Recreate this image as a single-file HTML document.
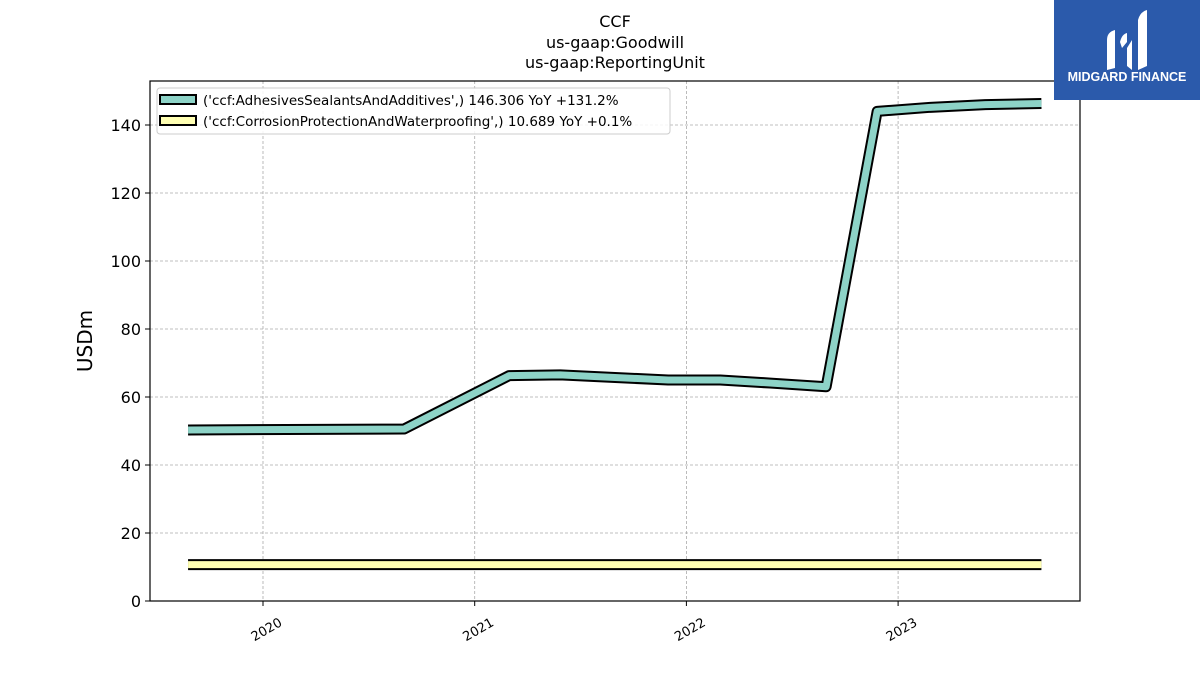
<!DOCTYPE html>
<html><head><meta charset="utf-8"><style>
body{margin:0;background:#fff;width:1200px;height:675px;overflow:hidden;font-family:"Liberation Sans","DejaVu Sans",sans-serif}
</style></head><body>
<svg id="chart" width="1200" height="675" xmlns="http://www.w3.org/2000/svg" font-family="DejaVu Sans, Liberation Sans, sans-serif">
<g font-size="16" text-anchor="middle" fill="#000">
<text x="615" y="27">CCF</text><text x="615" y="48">us-gaap:Goodwill</text><text x="615" y="68">us-gaap:ReportingUnit</text></g>
<g id="grid"></g>
<g id="series"></g>
<rect x="150" y="81" width="930" height="520" fill="none" stroke="#000" stroke-width="1.2"/>
<g id="axes"></g>
<text transform="translate(92,341) rotate(-90)" text-anchor="middle" font-size="20">USDm</text>
<g>
<rect x="157" y="88" width="513" height="46" rx="3" fill="#fff" fill-opacity="0.85" stroke="#ccc"/>
<g><rect x="160" y="95" width="36" height="9" fill="#8dd3c7" stroke="#000" stroke-width="2"/><text x="203" y="105" font-size="13.5">('ccf:AdhesivesSealantsAndAdditives',) 146.306 YoY +131.2%</text></g>
<g><rect x="160" y="116" width="36" height="9" fill="#ffffb3" stroke="#000" stroke-width="2"/><text x="203" y="126" font-size="13.5">('ccf:CorrosionProtectionAndWaterproofing',) 10.689 YoY +0.1%</text></g>
</g>
<g>
<rect x="1054" y="0" width="146" height="100" fill="#2b5aab"/>
<path d="M1107 40 Q1107 32 1115 30 L1115 68 L1107 70 Z M1120 42 Q1122 34 1127 33 L1127 42 L1122 48 Z M1127 48 L1132 40 L1132 70 L1127 66 Z M1138 20 Q1140 12 1147 10 L1147 66 L1138 70 Z" fill="#fff"/>
<text x="1127" y="81" text-anchor="middle" font-size="12.5" font-weight="bold" fill="#fff" font-family="Liberation Sans, sans-serif">MIDGARD FINANCE</text>
</g>
</svg>
<script>
const yTicks=[0,20,40,60,80,100,120,140];
const xTickYears=[2020,2021,2022,2023];
const adhesivesDates=[2019.646,2020.667,2021.163,2021.404,2021.914,2022.160,2022.396,2022.660,2022.901,2023.152,2023.412,2023.677];
const adhesivesValues=[50.3,50.6,66.3,66.5,65.0,65.0,64.1,63.0,144.0,145.2,146.0,146.306];
const corrosionDates=[2019.646,2020.667,2021.163,2021.404,2021.914,2022.160,2022.396,2022.660,2022.901,2023.152,2023.412,2023.677];
const corrosionValues=[10.7,10.7,10.7,10.7,10.7,10.7,10.7,10.689,10.689,10.689,10.689,10.689];
const NS="http://www.w3.org/2000/svg";
function xs(t){return 263+(t-2020)*211.7;}
function ys(v){return 601-v*3.4;}
function mk(tag,attrs,parent){const e=document.createElementNS(NS,tag);for(const k in attrs)e.setAttribute(k,attrs[k]);parent.appendChild(e);return e;}
const grid=document.getElementById('grid'),axes=document.getElementById('axes'),ser=document.getElementById('series');
yTicks.forEach(v=>{
 const l=mk('line',{x1:150,x2:1080,y1:ys(v),y2:ys(v),stroke:'#aaa','stroke-dasharray':'3,2','stroke-width':0.8},grid);
 
 
 mk('line',{x1:145,x2:150,y1:ys(v),y2:ys(v),stroke:'#000'},axes);
 const t=mk('text',{x:141,y:ys(v)+6,'text-anchor':'end','font-size':16},axes);
 
 
 t.textContent=v;
});
xTickYears.forEach(yr=>{
 const x=xs(yr);
 const l=mk('line',{x1:x,x2:x,y1:81,y2:601,stroke:'#aaa','stroke-dasharray':'3,2','stroke-width':0.8},grid);
 
 
 mk('line',{x1:x,x2:x,y1:601,y2:606,stroke:'#000'},axes);
 const t=mk('text',{x:x+20,y:625,'text-anchor':'end','font-size':13,transform:`rotate(-30 ${x+20} 625)`},axes);
 
 
 t.textContent=yr;
});
function draw(dates,vals,color,name){
 const pts=dates.map((d,i)=>xs(d)+','+ys(vals[i])).join(' ');
 const g=mk('g',{},ser);
 
 
 mk('polyline',{points:pts,fill:'none',stroke:'#000','stroke-width':11,'stroke-linejoin':'round','stroke-linecap':'butt'},g);
 mk('polyline',{points:pts,fill:'none',stroke:color,'stroke-width':7,'stroke-linejoin':'round','stroke-linecap':'butt'},g);
}
draw(corrosionDates,corrosionValues,'#ffffb3','series-corrosion-line');
draw(adhesivesDates,adhesivesValues,'#8dd3c7','series-adhesives-line');
</script>
</body></html>
